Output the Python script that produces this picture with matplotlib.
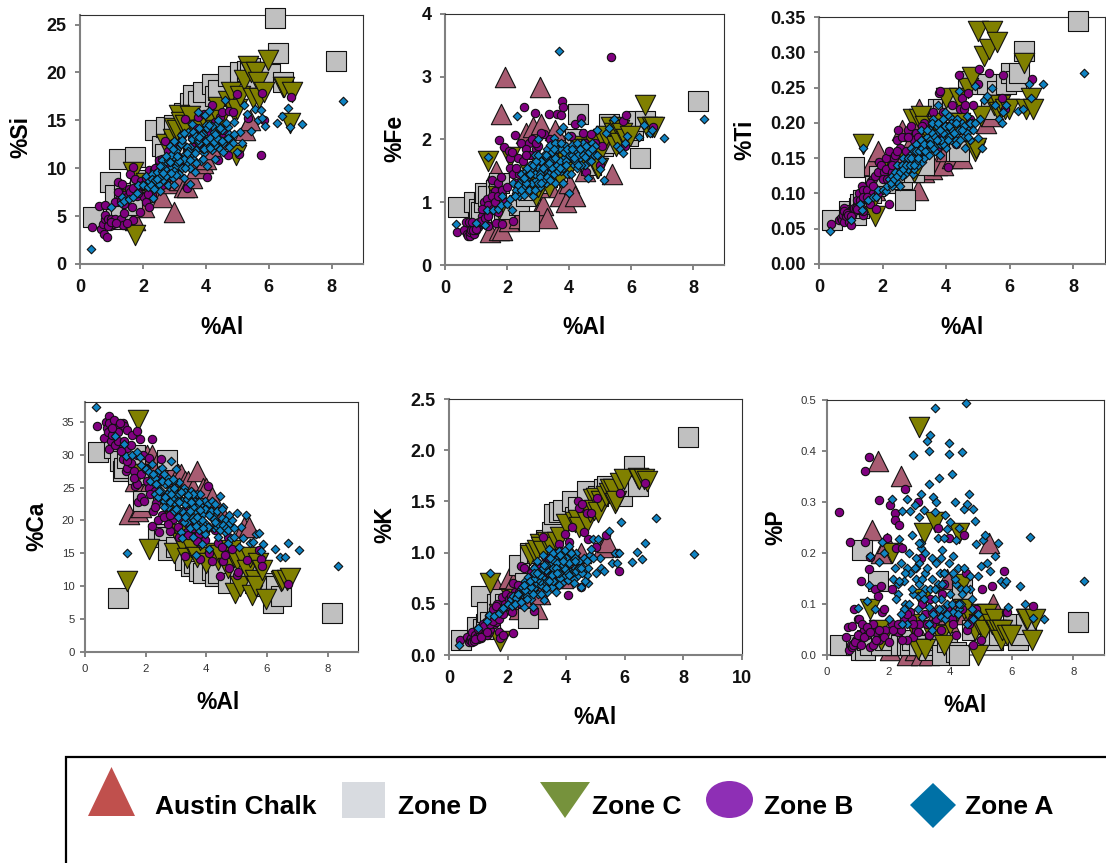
import matplotlib
matplotlib.use("Agg")
import matplotlib.pyplot as plt
from matplotlib.patches import Polygon, Rectangle, Ellipse

nan = float("nan")

# ---- Zone A ----
A_Al = [0.35,1.0,1.3,1.35,1.4,1.55,1.7,1.8,1.85,2.0,
        2.1,2.15,2.2,2.3,2.33,2.4,2.45,2.5,2.55,2.6,
        2.65,2.7,2.75,2.8,2.85,2.9,2.95,3.0,3.0,3.05,
        3.1,3.15,3.2,3.2,3.25,3.3,3.3,3.35,3.4,3.45,
        3.5,3.5,3.55,3.6,3.65,3.67,3.7,3.75,3.8,3.85,
        3.9,3.95,3.97,4.0,4.05,4.1,4.15,4.2,4.25,4.3,
        4.35,4.4,4.45,4.5,4.55,4.6,4.65,4.7,4.75,4.8,
        4.85,4.9,5.0,5.08,5.14,5.2,5.3,5.45,5.55,5.65,
        5.75,5.8,5.87,6.26,6.43,6.6,6.68,7.05,8.35,2.6,
        2.3,2.5,2.7,2.8,2.9,3.0,3.1,3.2,3.3,3.4,
        3.5,3.6,3.7,3.8,3.9,4.0,4.1,4.2,4.3,4.4,
        2.4,2.6,3.05,3.55,3.75,
        2.25,2.35,2.45,2.55,2.65,2.75,2.85,2.95,3.05,3.15,
        3.25,3.35,3.45,3.55,3.65,3.75,3.85,3.95,4.05,4.15,
        4.25,4.35,4.45,4.55,4.65,4.75,2.9,3.1,3.3,3.5,
        3.7,3.9,4.1,4.3,4.5,4.7,4.9,3.0,3.4,3.8]
A_Si = [1.6,5.9,6.4,7.0,6.6,6.8,7.0,7.4,8.2,8.2,
        9.2,8.0,8.7,9.4,6.9,8.1,9.6,8.4,7.6,9.7,
        8.8,10.6,9.2,8.2,12.3,10.0,9.0,11.2,8.3,10.2,
        12.0,9.4,13.5,11.0,10.0,12.4,9.0,11.5,10.5,13.8,
        8.4,12.2,14.6,11.0,13.0,9.6,11.9,15.9,12.6,10.8,
        13.6,11.6,15.6,12.8,10.2,16.0,13.2,11.9,13.8,12.4,
        14.6,13.2,12.0,14.0,11.7,17.1,13.0,14.3,13.6,12.9,
        12.6,14.8,11.7,13.8,12.6,16.6,15.7,13.9,16.2,15.0,
        16.1,15.2,14.4,14.7,15.5,16.3,14.3,14.6,17.0,10.9,
        8.9,9.0,9.9,10.9,11.4,9.7,10.7,12.5,11.0,12.2,
        10.0,13.8,10.5,14.2,12.0,14.5,12.2,14.4,11.0,15.0,
        8.8,10.2,11.8,11.6,13.0,
        8.2,7.8,8.9,10.2,9.5,11.3,10.7,12.0,9.3,10.8,
        12.9,10.0,11.8,13.0,11.6,12.9,13.5,12.0,14.2,12.1,
        12.7,13.2,14.2,12.6,14.7,12.2,9.5,11.3,13.7,10.9,
        13.4,11.0,14.5,13.6,12.8,13.2,13.6,12.8,11.6,13.3]
A_Fe = [.65,.67,.64,.87,1.72,.88,.9,.95,1.1,.98,
        1.05,.87,1.3,1.15,2.38,1.1,1.45,1.25,1.12,1.5,
        1.38,1.2,1.6,1.3,1.1,1.75,1.35,1.55,2.0,1.25,
        1.65,1.4,1.5,1.75,1.3,1.6,1.85,1.45,1.92,1.55,
        1.75,2.03,1.3,1.6,1.85,3.41,2.13,1.5,2.2,1.7,
        1.9,1.45,2.05,1.15,1.72,1.92,1.6,1.8,1.55,1.88,
        1.7,2.27,1.95,1.6,1.82,1.38,1.66,1.74,1.95,1.75,
        1.9,2.15,1.53,1.68,1.36,2.1,2.18,2.32,1.9,1.85,
        1.78,1.95,2.06,2.04,2.23,2.1,2.15,2.02,2.32,1.42,
        1.2,1.35,1.45,1.55,1.45,1.3,1.5,1.35,1.7,1.65,
        1.45,1.85,1.65,1.55,1.65,1.75,1.75,1.65,1.75,1.6,
        1.3,1.3,1.45,1.95,1.85,
        1.1,1.28,1.2,1.38,1.55,1.45,1.6,1.65,1.4,1.55,
        1.75,1.62,1.8,1.7,1.5,1.95,1.8,1.85,1.45,1.7,
        1.95,1.85,1.75,1.9,1.8,1.85,1.2,1.3,1.4,1.85,
        1.55,1.6,1.85,1.6,1.72,1.65,1.75,1.75,1.35,1.3]
A_Ti = [.047,.063,.085,.077,.165,.09,.095,.095,.105,.105,
        .103,.11,.12,.11,.118,.125,.14,.115,.11,.135,
        .15,.128,.145,.135,.155,.165,.128,.15,.135,.17,
        .14,.155,.16,.19,.145,.175,.15,.165,.18,.155,
        .19,.165,.175,.205,.16,.185,.17,.225,.155,.19,
        .205,.18,.215,.165,.195,.21,.175,.19,.2,.175,
        .185,.245,.19,.2,.18,.165,.21,.19,.175,.2,
        .19,.252,.178,.205,.165,.232,.238,.25,.225,.205,
        .2,.215,.225,.217,.22,.255,.235,.255,.27,.125,
        .125,.13,.14,.15,.14,.16,.15,.175,.16,.17,
        .175,.165,.195,.17,.17,.185,.18,.205,.17,.19,
        .13,.14,.145,.2,.2,
        .115,.12,.125,.13,.135,.14,.14,.15,.16,.16,
        .165,.16,.17,.185,.18,.175,.175,.195,.175,.2,
        .185,.205,.175,.195,.185,.2,.15,.15,.17,.17,
        .175,.185,.195,.2,.19,.18,.2,.14,.19,.19]
A_Ca = [37.2,32.9,31.6,29.8,15.0,30.0,30.4,29.6,28.5,27.8,
        27.3,26.0,28.6,24.0,27.0,25.6,27.6,24.5,28.0,23.0,
        25.5,26.6,22.0,24.6,29.1,23.4,21.5,27.8,24.0,20.5,
        25.8,18.3,23.0,17.3,25.0,21.0,24.3,19.8,22.7,18.8,
        24.5,20.7,17.5,23.0,21.5,14.8,24.0,19.5,22.3,16.4,
        21.0,23.0,18.0,19.5,22.5,15.7,20.5,23.0,18.8,21.0,
        19.0,17.5,23.7,20.3,22.0,18.2,20.0,16.6,19.5,17.3,
        20.0,17.5,21.1,15.9,19.0,17.4,20.9,16.5,16.7,17.9,
        18.1,15.4,16.4,15.6,14.4,14.4,16.5,15.5,13.0,22.0,
        26.5,26.0,24.0,22.8,26.0,22.5,24.0,21.5,22.5,21.0,
        23.0,20.0,22.0,24.0,19.5,21.8,19.0,21.5,22.5,19.5,
        23.5,27.0,23.0,22.0,18.5,
        27.0,25.5,24.5,26.0,23.5,25.8,24.0,25.0,21.8,24.3,
        19.8,23.3,21.5,24.0,19.2,22.8,20.0,21.8,19.0,21.5,
        20.2,21.5,18.6,19.3,18.8,20.8,26.3,22.8,20.5,22.8,
        20.5,18.8,20.8,19.8,21.8,18.5,18.8,21.8,23.8,21.6]
A_K = [.10,.26,.33,.39,.80,.38,.41,.45,.46,.5,
       .55,.48,.58,.52,.58,.55,.64,.6,.47,.72,
       .58,.76,.63,.55,.47,.85,.66,.92,.70,.6,
       .8,.68,.98,.75,.54,.83,.7,.62,1.04,.78,
       .9,.66,1.0,.8,.62,.94,.72,1.02,.85,.7,
       .98,.77,1.03,.88,.73,1.06,.82,.92,.74,.85,
       1.0,.78,.92,.66,.86,.95,.8,.78,.7,.98,
       1.04,1.13,.8,1.13,.95,.85,.82,1.21,.9,1.0,
       .9,1.0,1.30,.91,1.01,.94,1.09,1.34,.99,.65,
       .56,.66,.7,.66,.75,.78,.72,.85,.88,.72,
       .78,.92,.9,.75,.88,.95,.9,.8,.95,.85,
       .6,.63,.74,.85,.8,
       .5,.6,.52,.68,.55,.72,.6,.75,.78,.6,
       .88,.72,.95,.72,.85,.68,.95,.84,.8,1.0,
       .7,.82,.85,.8,.72,.85,.8,.78,.65,.78,
       .8,.92,.78,.92,.85,.92,.95,.8,.72,.98]
A_P = [nan,.093,.105,.137,.195,.09,.182,.222,.2,.07,
       .305,.15,.17,.12,.228,.18,.282,.145,.1,.305,
       .2,.283,.235,.392,.295,.15,.115,.27,.18,.315,
       .075,.285,.2,.13,.42,.335,.40,.432,.19,.31,
       .485,.28,.30,.23,.348,.16,.11,.205,.23,.275,
       .248,.415,.395,.26,.354,.195,.3,.225,.17,.25,
       .13,.398,.287,.495,.297,.315,.155,.11,.287,.262,
       .217,.155,.175,.225,.235,.18,.165,.195,.22,.145,
       .14,.145,.095,.135,.10,.232,.072,.07,.145,.06,
       .14,.09,.16,.12,.17,.14,.12,.16,.095,.15,
       .11,.14,.075,.16,.1,.12,.085,.14,.09,.12,
       .08,.17,.21,.13,.09,
       .11,.145,.06,.16,.1,.13,.17,.09,.22,.11,
       .17,.13,.08,.18,.09,.14,.07,.18,.1,.15,
       .08,.1,.17,.06,.13,.07,.19,.15,.06,.13,
       .19,.08,.16,.1,.13,.09,.08,.22,.05,.16]

# ---- Zone B ----
B_Al = [0.38,0.62,0.68,0.72,0.75,0.78,0.8,0.8,0.85,0.88,
        0.95,1.0,1.05,1.1,1.2,1.25,1.25,1.3,1.35,1.38,
        1.4,1.4,1.5,1.55,1.6,1.65,1.7,1.7,1.75,1.8,
        1.85,1.9,1.95,2.05,2.1,2.2,2.2,2.25,2.35,2.45,
        2.5,2.55,2.7,2.8,2.9,2.95,3.05,3.2,3.3,3.35,
        3.4,3.6,3.75,3.78,3.8,3.95,4.05,4.2,4.4,4.45,
        4.5,4.55,4.7,4.75,4.85,5.0,5.05,5.35,5.75,5.8,
        5.85,6.7,
        0.9,1.0,1.1,1.15,1.2,1.3,1.4,1.5,1.6,1.7,
        1.85,2.0,2.1,2.3,2.4,2.6,2.75,3.0,
        2.15,2.3,2.45,2.6,2.8,2.95,3.1,3.25,3.4,3.55,3.7,3.9,4.1,4.3,4.6]
B_Si = [3.9,6.1,3.7,4.2,3.1,4.7,6.2,5.1,2.8,4.7,
        4.0,4.7,4.2,4.7,8.6,6.8,7.5,4.7,8.4,4.1,
        7.2,5.3,7.0,7.8,9.4,6.0,10.1,4.6,8.9,7.1,
        8.0,5.4,8.7,7.0,6.5,5.9,9.8,7.6,9.8,8.6,
        10.9,9.6,12.8,10.2,11.5,9.4,12.5,12.6,10.6,15.1,
        7.9,12.2,15.3,13.6,12.2,15.7,9.1,16.6,10.9,15.3,
        15.9,13.3,11.4,16.0,15.9,17.7,11.5,15.2,11.4,17.9,
        15.0,17.4,
        4.0,4.4,6.5,4.3,7.5,6.6,6.3,4.3,7.5,7.9,
        7.4,8.2,9.0,7.2,10.0,11.0,9.2,11.0,
        7.3,8.8,9.5,8.2,11.8,12.6,11.3,13.5,11.9,13.2,14.2,12.9,13.8,14.8,14.0]
B_Fe = [.52,.55,.69,.50,.47,.68,.47,.52,.55,.69,
        .5,.55,.6,.65,.78,1.0,.72,.65,1.05,.95,
        .8,.62,1.35,.9,1.18,.67,1.3,.85,1.99,1.4,
        .65,1.88,1.0,1.82,1.55,.7,1.45,2.07,1.7,1.95,
        1.65,2.51,1.95,2.0,2.43,1.85,1.6,2.08,1.75,2.4,
        1.55,2.4,2.39,2.62,2.52,1.7,2.05,2.25,2.35,2.1,
        1.95,1.48,2.08,1.8,1.95,1.6,1.9,3.32,2.3,1.9,
        2.39,2.2,
        .55,.58,.68,.7,.9,.75,.78,1.1,1.0,1.1,
        1.2,1.25,1.7,1.3,1.45,1.85,1.75,1.9,
        1.8,1.55,1.2,1.75,1.6,1.95,2.1,1.5,2.0,1.65,1.9,1.75,1.7,1.85,1.9]
B_Ti = [.057,.062,.065,.063,.07,.08,.06,.075,.068,.072,
        .06,.055,.07,.075,.09,.08,.1,.085,.11,.07,
        .105,.075,.105,.09,.085,.118,.1,.12,.125,.078,
        .13,.145,.14,.13,.15,.085,.16,.14,.15,.175,
        .19,.165,.18,.19,.195,.16,.185,.17,.2,.175,
        .165,.215,.18,.243,.245,.195,.138,.225,.268,.22,
        .235,.22,.243,.205,.225,.255,.277,.27,.235,.268,
        .22,.262,
        .07,.068,.08,.08,.078,.09,.095,.095,.115,.11,
        .1,.12,.135,.13,.155,.18,.16,.175,
        .12,.14,.16,.13,.18,.155,.18,.195,.17,.2,.165,.215,.19,.17,.225]
B_Ca = [34.4,32.5,34.9,34.0,33.5,35.8,30.8,34.8,32.0,33.0,
        35.2,34.0,31.8,33.5,30.8,34.8,29.4,34.4,27.5,33.8,
        28.0,31.0,28.8,33.0,27.5,25.3,33.6,25.6,22.8,32.4,
        23.5,30.0,22.9,26.0,29.5,32.4,19.1,21.5,22.6,18.3,
        29.3,20.8,22.0,18.4,20.2,23.0,19.0,20.0,14.6,18.3,
        19.5,17.5,18.0,14.2,16.5,17.0,25.2,13.9,16.5,11.6,
        16.0,13.8,17.5,12.7,15.6,11.7,12.1,14.0,15.5,14.2,
        13.1,10.3,
        34.0,31.5,32.0,34.8,30.5,32.0,29.0,31.5,26.5,30.0,
        27.0,27.8,25.0,24.5,20.0,23.5,19.5,21.5,
        24.0,22.0,26.5,20.5,20.8,24.5,17.5,21.5,17.8,18.8,16.8,19.5,15.0,18.5,14.8]
B_K = [.15,.18,.13,.15,.17,.22,.14,.13,.14,.2,
       .18,.16,.2,.17,.2,.32,.25,.2,.38,.22,
       .35,.25,.45,.3,.32,.5,.4,.22,.17,.57,
       .2,.5,.6,.55,.45,.21,.7,.62,.68,.87,
       .6,.85,.7,.75,.43,.85,.8,1.15,.95,.9,
       .95,1.0,1.08,.85,1.02,1.18,.59,1.25,1.5,1.44,
       .66,1.47,1.39,1.13,1.39,1.05,1.53,1.17,1.0,.82,
       1.58,1.68,
       .16,.25,.18,.3,.28,.22,.3,.33,.48,.35,
       .4,.48,.58,.55,.62,.65,.6,.72,
       .42,.58,.5,.62,.8,.68,.85,.78,.82,.75,.95,.9,1.1,.95,1.2]
B_P = [.28,.035,.055,.01,.222,.02,.057,.015,.02,.09,
       .03,.07,.07,.145,.05,.36,.222,.04,.388,.168,
       .193,.015,.06,.13,.045,.115,.304,.03,.135,.085,
       .09,.05,.23,.295,.13,.278,.265,.21,.255,.21,
       .07,.325,.085,.035,.05,.3,.19,.08,.04,.11,
       .06,.25,.12,.08,.14,.23,.07,.04,.09,.235,
       .16,.05,.07,.02,.09,.03,.13,.135,.165,.085,
       .085,.097,
       .025,.04,.02,.06,.035,.055,.045,.02,.03,.05,
       .035,.025,.06,.045,.05,.03,.07,.06,
       .05,.06,.03,.08,.06,.045,.1,.06,.085,.07,.05,.09,.06,.1,.06]

# ---- Zone C ----
C_Al = [1.4,1.7,1.75,2.1,2.75,2.95,3.0,3.1,3.15,3.2,3.35,3.5,3.7,3.8,4.0,4.3,4.4,4.45,4.7,4.8,
        4.9,4.95,5.0,5.1,5.2,5.35,5.45,5.5,5.6,5.65,5.7,5.85,5.97,6.45,6.5,6.67,6.75]
C_Si = [6.8,9.6,3.0,8.5,12.5,13.0,14.2,14.0,15.6,14.8,14.5,15.5,14.0,14.0,14.7,14.0,16.4,15.0,17.0,18.0,
        16.0,11.4,16.2,17.5,19.2,20.7,20.0,17.3,20.0,19.0,17.3,18.0,21.3,18.5,18.5,14.7,18.0]
C_Fe = [1.65,1.1,.9,1.72,1.45,1.1,1.25,1.55,1.6,1.4,1.25,1.55,1.4,1.75,1.55,1.9,1.85,1.7,1.85,1.95,
        1.55,1.55,1.8,2.0,2.05,2.2,2.1,1.9,2.15,1.95,2.1,2.0,2.05,2.55,2.2,2.2,2.2]
C_Ti = [.17,.09,.068,.135,.15,.205,.13,.17,.205,.21,.195,.18,.195,.2,.235,.2,.235,.2,.25,.265,
        .16,.165,.33,.21,.295,.305,.33,.225,.315,.215,.225,.22,.22,.285,.22,.235,.22]
C_Ca = [10.8,27,35.2,15.7,22,15,23.5,17.5,18,16.5,14.3,16,14.5,17,13.5,15,14,14.8,12.8,15.5,
        14.5,9,14,10,14.3,12.5,14.5,8.7,11,10,13.6,12.5,8,10.8,11,11,11.2]
C_K = [.70,.4,.14,.55,.98,1.0,1.03,1.08,1.05,1.02,1.1,1.05,1.1,1.15,1.28,1.3,1.32,1.25,1.3,1.4,
       1.52,1.42,1.53,1.4,1.5,1.55,1.58,1.62,1.62,1.48,1.5,1.68,1.72,1.73,1.72,1.72,1.7]
C_P = [.09,.05,.03,.2,.06,.012,.447,.11,.24,.012,.05,.26,.04,.02,.06,.24,.14,.09,.07,.05,
       .0,.06,.08,.05,.08,.06,.07,.05,.05,.03,.05,.04,.04,.07,.07,.03,.07]

# ---- Zone D ----
D_Al = [.42,.95,1.1,1.15,1.25,1.3,1.4,1.65,1.75,1.9,2.4,2.6,2.7,2.75,3.0,3.3,3.5,3.6,3.75,3.9,
        4.2,4.3,4.4,4.7,5.1,5.3,5.4,5.6,5.9,6.05,6.2,6.3,6.45,8.15]
D_Si = [4.9,8.6,7.2,4.7,11.0,5.0,7.4,6.2,11.2,8.8,14.0,12.3,11.5,14.3,14.5,15.8,16.8,17.6,17.0,18.0,
        18.8,17.5,18.2,19.6,20.0,20.2,20.5,19.0,20.0,19.8,25.7,22.0,19.0,21.2]
D_Fe = [.93,1.0,.9,.85,1.0,1.15,1.1,1.2,1.3,.9,.95,1.1,.7,1.2,1.3,1.4,1.5,1.5,1.6,1.7,
        2.0,2.4,1.7,1.6,1.9,2.25,1.95,2.2,2.05,2.15,2.3,1.7,2.3,2.62]
D_Ti = [.063,.075,.138,.07,.08,.085,.09,.1,.11,.125,.115,.12,.09,.13,.13,.14,.2,.2,.22,.22,
        .225,.16,.16,.26,.255,.255,.22,.245,.255,.27,.26,.27,.302,.345]
D_Ca = [30.4,31,8.2,29,27.5,28,29.5,30,27,23,18,17.5,29.2,15.5,16,14,13,13.5,12.3,12,
        12.5,11.5,12,10.5,11.5,11.8,11,10.5,10,10.5,7.5,10,8.5,6]
D_K = [.15,.27,.58,.25,.3,.42,.32,.5,.55,.5,.88,.7,.36,1.0,1.0,1.12,1.2,1.38,1.4,1.42,
       1.5,1.35,1.45,1.6,1.55,1.62,1.65,1.62,1.55,1.7,1.65,1.85,1.65,2.13]
D_P = [.02,.02,.01,.205,.01,.03,.02,.145,.02,.03,.02,.02,.02,.03,.02,.01,.02,.03,.0,.025,
       .005,.0,.13,.05,.04,.03,.03,.04,.05,.06,.03,.04,.06,.065]

# ---- Austin Chalk ----
U_Al = [1.45,1.65,1.75,1.8,1.85,1.95,2.05,2.2,2.4,2.6,2.85,3.0,3.05,3.1,3.15,3.3,3.4,3.55,3.7,3.9,4.0,4.2,4.5,5.25,5.4]
U_Si = [6.0,8.0,4.6,7.0,7.5,6.5,6.0,7.5,7.5,7.0,8.5,5.4,9.0,9.0,8.8,8.0,8.0,9.0,10.0,10.5,11.0,12.0,13.0,14.0,15.0]
U_Fe = [.52,1.5,.55,2.4,.55,3.0,.7,1.0,.75,2.1,2.2,.85,2.83,2.25,.95,.75,1.25,2.15,1.1,1.0,1.3,1.1,1.5,2.0,1.45]
U_Ti = [.1,.14,.105,.12,.16,.13,.135,.14,.15,.19,.17,.16,.19,.105,.22,.13,.14,.135,.14,.14,.16,.15,.15,.2,.21]
U_Ca = [21,26,21.5,28,22,24,30,30,29,28,27,26,27,26,27,26,26,25,27.5,25,25,23.5,21,19,19]
U_K = [.35,.65,.5,.5,.6,.55,.75,.7,.45,.55,.65,.45,.7,.6,.75,.8,.8,.85,.8,.75,.9,.95,1.0,1.05,1.1]
U_P = [.245,.38,.2,.02,.03,.22,.01,.02,.35,.0,.01,.02,.0,.03,.02,.0,.05,.08,.03,.15,.06,.1,.08,.22,.1]

SERIES = [
    (U_Al, dict(Si=U_Si, Fe=U_Fe, Ti=U_Ti, Ca=U_Ca, K=U_K, P=U_P), "^", 215, "#A85C72"),
    (D_Al, dict(Si=D_Si, Fe=D_Fe, Ti=D_Ti, Ca=D_Ca, K=D_K, P=D_P), "s", 205, "#C0C0C0"),
    (C_Al, dict(Si=C_Si, Fe=C_Fe, Ti=C_Ti, Ca=C_Ca, K=C_K, P=C_P), "v", 215, "#808000"),
    (B_Al, dict(Si=B_Si, Fe=B_Fe, Ti=B_Ti, Ca=B_Ca, K=B_K, P=B_P), "o", 36, "#800080"),
    (A_Al, dict(Si=A_Si, Fe=A_Fe, Ti=A_Ti, Ca=A_Ca, K=A_K, P=A_P), "D", 19, "#0F84C4"),
]

W, H = 1106, 863
plt.rcParams["font.family"] = ["Liberation Sans", "DejaVu Sans"]
fig = plt.figure(figsize=(W / 100, H / 100), dpi=100)

PANELS = [
    # key, frame px (l,t,r,b), xmax, ymax, xticks, yticks, fmt, bold, size, xlabel px, ylabel px
    ("Si", (80, 15, 363, 264), 9, 26, [0,2,4,6,8], [0,5,10,15,20,25], "%d", True, 13, (222,327), (21,137)),
    ("Fe", (445, 14, 724, 265), 9, 4, [0,2,4,6,8], [0,1,2,3,4], "%d", True, 13, (584,328), (395,138)),
    ("Ti", (819, 17, 1105, 264), 9, .35, [0,2,4,6,8], [0,.05,.1,.15,.2,.25,.3,.35], "%.2f", True, 13, (962,327), (745,140)),
    ("Ca", (85, 402, 358, 652), 9, 38, [0,2,4,6,8], [0,5,10,15,20,25,30,35], "%d", False, 8.2, (218,702), (37,526)),
    ("K", (449, 399, 742, 655), 10, 2.5, [0,2,4,6,8,10], [0,.5,1,1.5,2,2.5], "%.1f", True, 13, (595,717), (385,525)),
    ("P", (827, 400, 1104, 655), 9, .5, [0,2,4,6,8], [0,.1,.2,.3,.4,.5], "%.1f", False, 8.2, (965,705), (776,527)),
]

# legend layer
ov = fig.add_axes([0, 0, 1, 1], zorder=0)
ov.set_xlim(0, W); ov.set_ylim(H, 0); ov.axis("off")
ov.plot([66, 66, W], [H, 756.5, 756.5], color="black", lw=1.6, solid_joinstyle="miter", clip_on=False)
ov.add_patch(Polygon([(88, 816), (111.5, 767), (135, 816)], fc="#C0504D", ec="none"))
ov.add_patch(Rectangle((342, 782), 43, 36, fc="#D8DBE0", ec="none"))
ov.add_patch(Polygon([(540, 782), (590, 782), (565, 818)], fc="#76923C", ec="none"))
ov.add_patch(Ellipse((729.5, 799.5), 47, 37, fc="#8E2FB5", ec="none"))
ov.add_patch(Polygon([(933, 783), (956, 805), (933, 828), (910, 805)], fc="#0071A6", ec="none"))
LEGEND_TEXT = [("Austin Chalk", 155), ("Zone D", 398), ("Zone C", 592), ("Zone B", 764), ("Zone A", 965)]
for label, px in LEGEND_TEXT:
    ov.text(px, 807, label, fontsize=19, fontweight="bold", ha="left", va="center", color="black")

for key, (l, t, r, b), xmax, ymax, xt, yt, fmt, bold, size, xl, yl in PANELS:
    ax = fig.add_axes([l / W, 1 - b / H, (r - l) / W, (b - t) / H], zorder=1)
    ax.patch.set_alpha(0)
    for x, ys, m, s, c in SERIES:
        ax.scatter(x, ys[key], marker=m, s=s, c=c, edgecolors="#111111", linewidths=0.8,
                   clip_on=False, zorder=3)
    ax.set_xlim(0, xmax); ax.set_ylim(0, ymax)
    ax.set_xticks(xt); ax.set_yticks(yt)
    ax.set_yticklabels([fmt % v for v in yt])
    ax.set_xticklabels(["%d" % v for v in xt])
    ax.tick_params(length=3.5, width=1.2, color="#707070", labelsize=size, pad=6 if bold else 4,
                   labelcolor="#111111" if bold else "#333333")
    ax.tick_params(axis="x", pad=7 if bold else 5)
    if bold:
        for lab in ax.get_xticklabels() + ax.get_yticklabels():
            lab.set_fontweight("bold")
    for side in ("left", "bottom"):
        ax.spines[side].set_color("#808080"); ax.spines[side].set_linewidth(1.5)
    for side in ("top", "right"):
        ax.spines[side].set_color("#303030"); ax.spines[side].set_linewidth(0.8)
    fig.text(xl[0] / W, 1 - xl[1] / H, "%Al", fontsize=16.5, fontweight="bold", ha="center", va="center")
    fig.text(yl[0] / W, 1 - yl[1] / H, "%" + key, fontsize=16.5, fontweight="bold", ha="center", va="center", rotation=90)

fig.savefig("out.png", dpi=100)
